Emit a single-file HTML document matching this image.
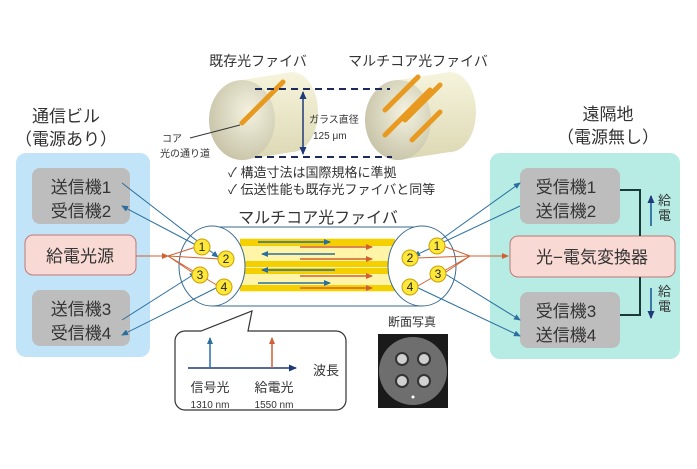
<!DOCTYPE html>
<html><head><meta charset="utf-8"><style>
body{margin:0;background:#fff}
text{font-family:"Liberation Sans","Noto Sans CJK JP",sans-serif}
</style></head><body>
<svg width="697" height="464" viewBox="0 0 697 464" xmlns="http://www.w3.org/2000/svg">
<defs>
<linearGradient id="cyl" x1="0" y1="0" x2="0" y2="1"><stop offset="0" stop-color="#f6f4dc"/><stop offset="1" stop-color="#dcd8b4"/></linearGradient>
<radialGradient id="face" cx="0.6" cy="0.4" r="0.7"><stop offset="0" stop-color="#f4f2e0"/><stop offset="1" stop-color="#c4c0a4"/></radialGradient>
<marker id="ab" markerUnits="userSpaceOnUse" markerWidth="7" markerHeight="6" refX="6" refY="3" orient="auto"><path d="M0,0L7,3L0,6z" fill="#2a6fa0"/></marker>
<marker id="ar" markerUnits="userSpaceOnUse" markerWidth="7" markerHeight="6" refX="6" refY="3" orient="auto"><path d="M0,0L7,3L0,6z" fill="#d06030"/></marker>
<marker id="an" markerUnits="userSpaceOnUse" markerWidth="8" markerHeight="7" refX="7" refY="3.5" orient="auto"><path d="M0,0L8,3.5L0,7z" fill="#1e3a78"/></marker>
</defs>

<rect x="16" y="153" width="134" height="204" rx="10" fill="#c2e4f8"/>
<rect x="490" y="153" width="190" height="206" rx="10" fill="#b6ece4"/>
<text x="66" y="122" font-size="17" text-anchor="middle" fill="#333">通信ビル</text>
<text x="66" y="145" font-size="17" text-anchor="middle" fill="#333">（電源あり）</text>
<text x="608" y="120" font-size="17" text-anchor="middle" fill="#333">遠隔地</text>
<text x="608" y="143" font-size="17" text-anchor="middle" fill="#333">（電源無し）</text>

<rect x="32" y="168" width="98" height="56" rx="8" fill="#bdbdbd"/>
<text x="81" y="193" font-size="17" text-anchor="middle" fill="#333">送信機1</text>
<text x="81" y="217" font-size="17" text-anchor="middle" fill="#333">受信機2</text>
<rect x="25" y="235" width="111" height="40" rx="8" fill="#f9d9d4" stroke="#c07878"/>
<text x="80" y="262" font-size="17" text-anchor="middle" fill="#333">給電光源</text>
<rect x="32" y="290" width="98" height="56" rx="8" fill="#bdbdbd"/>
<text x="81" y="315" font-size="17" text-anchor="middle" fill="#333">送信機3</text>
<text x="81" y="339" font-size="17" text-anchor="middle" fill="#333">受信機4</text>

<rect x="520" y="168" width="100" height="56" rx="8" fill="#bdbdbd"/>
<text x="566" y="193" font-size="17" text-anchor="middle" fill="#333">受信機1</text>
<text x="566" y="217" font-size="17" text-anchor="middle" fill="#333">送信機2</text>
<rect x="510" y="236" width="165" height="41" rx="8" fill="#f9d9d4" stroke="#c07878"/>
<text x="592" y="263" font-size="17" text-anchor="middle" fill="#333">光−電気変換器</text>
<rect x="520" y="292" width="100" height="56" rx="8" fill="#bdbdbd"/>
<text x="566" y="317" font-size="17" text-anchor="middle" fill="#333">受信機3</text>
<text x="566" y="341" font-size="17" text-anchor="middle" fill="#333">送信機4</text>
<path d="M620,190H640V236M640,277V315H620" fill="none" stroke="#1a3a3a" stroke-width="2"/>
<line x1="651" y1="226" x2="651" y2="196" stroke="#3a7aa8" stroke-width="2" marker-end="url(#an)"/>
<line x1="651" y1="288" x2="651" y2="318" stroke="#3a7aa8" stroke-width="2" marker-end="url(#an)"/>
<text x="658" y="205" font-size="13" fill="#333">給</text><text x="658" y="220" font-size="13" fill="#333">電</text>
<text x="658" y="296" font-size="13" fill="#333">給</text><text x="658" y="311" font-size="13" fill="#333">電</text>

<text x="258" y="66" font-size="14" text-anchor="middle" fill="#333">既存光ファイバ</text>
<text x="418" y="66" font-size="14" text-anchor="middle" fill="#333">マルチコア光ファイバ</text>
<path d="M242,80 L292,72 A26,40 0 0 1 292,152 L242,160 Z" fill="url(#cyl)"/>
<ellipse cx="242" cy="120" rx="33" ry="40" fill="url(#face)"/>
<line x1="242" y1="123" x2="283" y2="82" stroke="#e89a20" stroke-width="5" stroke-linecap="round"/>
<path d="M398,80 L450,72 A26,40 0 0 1 450,152 L398,160 Z" fill="url(#cyl)"/>
<ellipse cx="398" cy="120" rx="33" ry="40" fill="url(#face)"/>
<line x1="385" y1="110" x2="418" y2="77" stroke="#e89a20" stroke-width="5" stroke-linecap="round"/>
<line x1="385" y1="135" x2="430" y2="90" stroke="#e89a20" stroke-width="5" stroke-linecap="round"/>
<line x1="405" y1="120" x2="440" y2="85" stroke="#e89a20" stroke-width="5" stroke-linecap="round"/>
<line x1="412" y1="140" x2="440" y2="112" stroke="#e89a20" stroke-width="5" stroke-linecap="round"/>
<line x1="255" y1="89" x2="390" y2="89" stroke="#1e2a5a" stroke-width="2" stroke-dasharray="7,5"/>
<line x1="255" y1="157" x2="392" y2="157" stroke="#1e2a5a" stroke-width="2" stroke-dasharray="7,5"/>
<line x1="303" y1="120" x2="303" y2="92" stroke="#1e3a78" stroke-width="1.5" marker-end="url(#an)"/>
<line x1="303" y1="120" x2="303" y2="154" stroke="#1e3a78" stroke-width="1.5" marker-end="url(#an)"/>
<text x="309" y="123" font-size="10" fill="#333">ガラス直径</text>
<text x="313" y="139" font-size="10" fill="#333">125 μm</text>
<text x="162" y="142" font-size="10" fill="#333">コア</text>
<text x="160" y="157" font-size="10" fill="#333">光の通り道</text>
<line x1="190" y1="138" x2="240" y2="125" stroke="#333"/>
<text x="228" y="177" font-size="13" fill="#333">✓ 構造寸法は国際規格に準拠</text>
<text x="228" y="194" font-size="13" fill="#333">✓ 伝送性能も既存光ファイバと同等</text>

<text x="318" y="223" font-size="16" text-anchor="middle" fill="#333">マルチコア光ファイバ</text>
<path d="M212,227H422M212,306H422" stroke="#3a6a90" stroke-width="1"/>
<rect x="240" y="238" width="155" height="54" fill="#fff4a8"/>
<g fill="#f5d000"><rect x="240" y="239" width="155" height="7"/><rect x="240" y="261" width="155" height="6"/><rect x="240" y="268" width="155" height="6"/><rect x="240" y="285" width="155" height="6"/></g>
<g stroke-width="1.5">
<line x1="258" y1="242" x2="330" y2="242" stroke="#2a6fa0" marker-end="url(#ab)"/>
<line x1="300" y1="247" x2="372" y2="247" stroke="#d06030" marker-end="url(#ar)"/>
<line x1="335" y1="254" x2="262" y2="254" stroke="#2a6fa0" marker-end="url(#ab)"/>
<line x1="300" y1="259" x2="372" y2="259" stroke="#d06030" marker-end="url(#ar)"/>
<line x1="335" y1="270" x2="262" y2="270" stroke="#2a6fa0" marker-end="url(#ab)"/>
<line x1="300" y1="276" x2="372" y2="276" stroke="#d06030" marker-end="url(#ar)"/>
<line x1="258" y1="283" x2="330" y2="283" stroke="#2a6fa0" marker-end="url(#ab)"/>
<line x1="300" y1="288" x2="372" y2="288" stroke="#d06030" marker-end="url(#ar)"/>
</g>
<ellipse cx="212" cy="266" rx="33" ry="40" fill="#fff" stroke="#3a6a90"/>
<ellipse cx="422" cy="266" rx="34" ry="40" fill="#fff" stroke="#3a6a90"/>

<g stroke-width="1" fill="none">
<line x1="122" y1="183" x2="218" y2="257" stroke="#2a6fa0" marker-end="url(#ab)"/>
<line x1="196" y1="245" x2="122" y2="206" stroke="#2a6fa0" marker-end="url(#ab)"/>
<line x1="122" y1="320" x2="196" y2="273" stroke="#2a6fa0" marker-end="url(#ab)"/>
<line x1="218" y1="287" x2="122" y2="335" stroke="#2a6fa0" marker-end="url(#ab)"/>
<line x1="136" y1="256" x2="168" y2="256" stroke="#d06030" marker-end="url(#ar)"/>
<path d="M168,256L196,247M168,256L220,259M168,256L196,275M168,256L220,287" stroke="#d06030"/>
<line x1="432" y1="246" x2="520" y2="183" stroke="#2a6fa0" marker-end="url(#ab)"/>
<line x1="520" y1="206" x2="414" y2="256" stroke="#2a6fa0" marker-end="url(#ab)"/>
<line x1="442" y1="272" x2="520" y2="320" stroke="#2a6fa0" marker-end="url(#ab)"/>
<line x1="414" y1="286" x2="520" y2="336" stroke="#2a6fa0" marker-end="url(#ab)"/>
<path d="M443,246L470,256M416,258L470,256M443,274L470,256M416,287L470,256" stroke="#d06030"/>
<line x1="470" y1="256" x2="508" y2="256" stroke="#d06030" marker-end="url(#ar)"/>
</g>
<g fill="#ffe83a" stroke="#c8a000">
<circle cx="202" cy="247" r="8"/><circle cx="226" cy="259" r="8"/><circle cx="200" cy="275" r="8"/><circle cx="224" cy="287" r="8"/>
<circle cx="437" cy="246" r="8"/><circle cx="410" cy="258" r="8"/><circle cx="438" cy="274" r="8"/><circle cx="410" cy="287" r="8"/>
</g>
<g font-size="12" fill="#222" text-anchor="middle">
<text x="202" y="251">1</text><text x="226" y="263">2</text><text x="200" y="279">3</text><text x="224" y="291">4</text>
<text x="437" y="250">1</text><text x="410" y="262">2</text><text x="438" y="278">3</text><text x="410" y="291">4</text>
</g>

<path d="M185,331 H201 L252,311 L248,331 H336 A10,10 0 0 1 346,341 V400 A10,10 0 0 1 336,410 H185 A10,10 0 0 1 175,400 V341 A10,10 0 0 1 185,331Z" fill="#fff" stroke="#333" stroke-width="1.2"/>
<line x1="188" y1="368" x2="296" y2="368" stroke="#1e3a78" stroke-width="1.5" marker-end="url(#an)"/>
<line x1="210" y1="368" x2="210" y2="338" stroke="#2a6fa0" stroke-width="1.5" marker-end="url(#ab)"/>
<line x1="272" y1="368" x2="272" y2="338" stroke="#d06030" stroke-width="1.5" marker-end="url(#ar)"/>
<text x="313" y="375" font-size="13" fill="#333">波長</text>
<text x="210" y="392" font-size="13" fill="#333" text-anchor="middle">信号光</text>
<text x="274" y="392" font-size="13" fill="#333" text-anchor="middle">給電光</text>
<text x="210" y="408" font-size="10" fill="#333" text-anchor="middle">1310 nm</text>
<text x="274" y="408" font-size="10" fill="#333" text-anchor="middle">1550 nm</text>

<text x="412" y="326" font-size="12" fill="#333" text-anchor="middle">断面写真</text>
<rect x="378" y="334" width="70" height="74" fill="#1a1a1a"/>
<circle cx="413" cy="371" r="34" fill="#6e6e6e"/>
<g fill="#d0d0d0" stroke="#333" stroke-width="2"><circle cx="402" cy="359" r="6"/><circle cx="424" cy="359" r="6"/><circle cx="402" cy="381" r="6"/><circle cx="424" cy="381" r="6"/></g>
<circle cx="413" cy="397" r="1.5" fill="#fff"/>
</svg>
</body></html>
